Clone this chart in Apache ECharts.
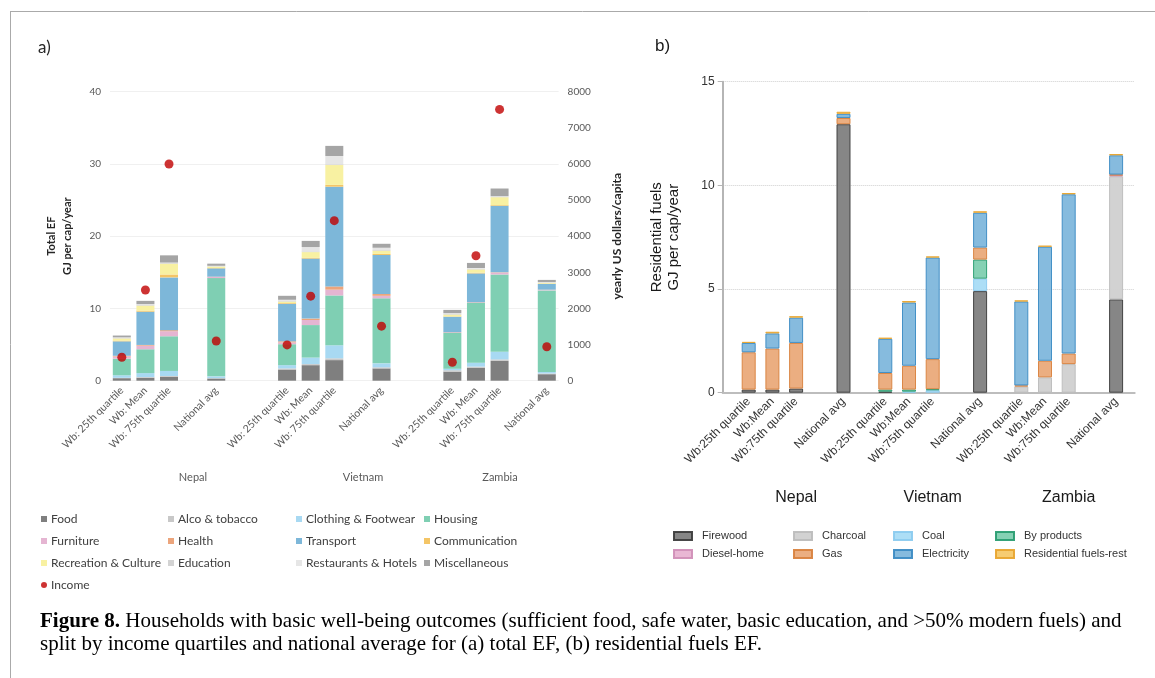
<!DOCTYPE html>
<html><head><meta charset="utf-8">
<script src="https://cdn.jsdelivr.net/npm/echarts@6/dist/echarts.min.js"></script>
<style>html,body{margin:0;padding:0;background:#fff}#c{width:1155px;height:678px}</style>
</head><body><div id="c"></div>
<script>
// ---------- Panel a data (order: Nepal 25th, Mean, 75th, National | Vietnam ... | Zambia ...)
const catA = ["Wb: 25th quartile","Wb: Mean","Wb: 75th quartile","","National avg","","",
  "Wb: 25th quartile","Wb: Mean","Wb: 75th quartile","","National avg","","",
  "Wb: 25th quartile","Wb: Mean","Wb: 75th quartile","","National avg"];
const groupsA = ["Nepal","Vietnam","Zambia"];
const food        = [0.35,0.4,0.55,0.3, 1.55,2.15,2.85,1.7, 1.25,1.8,2.75,0.9];
const alco        = [0.05,0.1,0.1,0.05, 0.15,0.15,0.25,0.15, 0.2,0.15,0.2,0.1];
const clothing    = [0.35,0.55,0.7,0.25, 0.45,0.9,1.8,0.55, 0.2,0.55,1.05,0.2];
const housing     = [2.3,3.3,4.8,13.6, 2.9,4.5,6.9,9.0, 4.95,8.25,10.7,11.3];
const furniture   = [0.3,0.5,0.7,0.15, 0.25,0.7,0.8,0.35, 0.05,0.05,0.25,0.05];
const health      = [0.1,0.1,0.15,0.05, 0.15,0.2,0.45,0.25, 0.05,0.05,0.05,0.05];
const transport   = [2.0,4.6,7.3,1.15, 5.2,8.3,13.8,5.4, 2.15,4.0,9.2,0.8];
const communication=[0.1,0.15,0.4,0.05, 0.1,0.1,0.25,0.15, 0.05,0.1,0.1,0.05];
const recreation  = [0.3,0.7,1.5,0.2, 0.2,0.8,2.75,0.45, 0.25,0.45,1.1,0.1];
const education   = [0.1,0.1,0.1,0.05, 0.15,0.1,0.1,0.1, 0.1,0.1,0.1,0.05];
const restaurants = [0.05,0.1,0.05,0.05, 0.1,0.6,1.15,0.3, 0.1,0.1,0.05,0.05];
const misc        = [0.25,0.45,1.0,0.3, 0.55,0.85,1.4,0.55, 0.45,0.7,1.05,0.3];
const income      = [650,2510,6000,1100, 990,2340,4430,1510, 510,3460,7510,940];

// ---------- Panel b data
const catB = ["Wb:25th quartile","Wb:Mean","Wb:75th quartile","","National avg"];
const groupsB = ["Nepal","Vietnam","Zambia"];
const firewood    = [0.15,0.15,0.2,12.95, 0.05,0,0,4.9, 0,0,0,4.5];
const charcoal    = [0,0,0,0, 0,0,0,0, 0.3,0.74,1.38,5.94];
const coal        = [0,0,0,0, 0,0.05,0.12,0.6, 0,0,0,0];
const byproducts  = [0,0,0,0, 0.1,0.1,0.05,0.92, 0,0,0,0];
const diesel      = [0,0,0,0, 0,0,0,0, 0,0,0,0.05];
const gas         = [1.8,1.98,2.2,0.3, 0.8,1.15,1.45,0.58, 0.05,0.8,0.51,0.03];
const electricity = [0.45,0.73,1.22,0.2, 1.65,3.05,4.9,1.68, 4.05,5.5,7.68,0.93];
const fuelsRest   = [0.05,0.08,0.07,0.1, 0.05,0.07,0.05,0.07, 0.05,0.05,0.06,0.06];

// ---------- helpers
function expand(vals, cats){ let j=0; return cats.map(c => { if(c==='') return '-'; const v = vals[j++]; return v===0?'-':v; }); }

const seriesAInfo = [
  ['Food',food,'#7f7f7f'],['Alco & tobacco',alco,'#c8c8c8'],['Clothing & Footwear',clothing,'#a8d9f2'],
  ['Housing',housing,'#7fcfb3'],['Furniture',furniture,'#e5b5d2'],['Health',health,'#eca57c'],
  ['Transport',transport,'#7db7d9'],['Communication',communication,'#f4c566'],['Recreation & Culture',recreation,'#f8f1a2'],
  ['Education',education,'#d3d3d3'],['Restaurants & Hotels',restaurants,'#e6e6e6'],['Miscellaneous',misc,'#a5a5a5']
];
const seriesBInfo = [
  ['Firewood',firewood,'#7f7f7f','#3d3d3d'],['Charcoal',charcoal,'#d0d0d0','#bdbdbd'],
  ['Coal',coal,'#a9dcf5','#8ccbef'],['By products',byproducts,'#7fcfb0','#2a9d72'],
  ['Diesel-home',diesel,'#e8b3d2','#d18fb8'],['Gas',gas,'#eaaa7a','#d9833f'],
  ['Electricity',electricity,'#7fb7dc','#3d8cc4'],['Residential fuels-rest',fuelsRest,'#f5c96a','#e8a530']
];

const fa = 'Lato, "Open Sans", sans-serif';
const fb = '"Liberation Sans", Arial, sans-serif';
const fs = '"Liberation Serif", "DejaVu Serif", serif';

const series = [];
seriesAInfo.forEach(([n,v,c]) => series.push({
  name:n, type:'bar', stack:'a', xAxisIndex:0, yAxisIndex:0, barWidth:18,
  itemStyle:{color:c}, data: expand(v, catA), animation:false
}));
series.push({name:'Income', type:'scatter', xAxisIndex:0, yAxisIndex:1, symbolSize:9,
  itemStyle:{color:'#c00000'}, data: expand(income, catA), z:5, animation:false});

for(let k=0;k<3;k++){
  seriesBInfo.forEach(([n,v,c,bc]) => series.push({
    name:n, type:'bar', stack:'b'+k, xAxisIndex:2+k, yAxisIndex:3+k, barWidth:14,
    itemStyle:{color:c, borderColor:bc, borderWidth:1, opacity:0.95},
    data: expand(v.slice(4*k,4*k+4), catB), animation:false
  }));
}

const grids = [
  {left:110, top:91.7, width:448.6, height:289},
  {left:722.7, top:81.7, width:412, height:311},
  {left:736.85, top:81.7, width:118.5, height:311},
  {left:873.45, top:81.7, width:118.5, height:311},
  {left:1009.45, top:81.7, width:118.5, height:311}
];

const xAxis = [
  {type:'category', gridIndex:0, data:catA, axisLine:{show:false}, axisTick:{show:false},
   axisLabel:{interval:0, rotate:45, margin:8, fontSize:10.5, color:'#595959', fontFamily:fa}},
  {type:'category', gridIndex:1, data:[''], axisLine:{show:true, lineStyle:{color:'#bdbdbd', width:2}},
   axisTick:{show:false}, axisLabel:{show:false}},
];
for(let k=0;k<3;k++) xAxis.push({type:'category', gridIndex:2+k, data:catB,
  axisLine:{show:false}, axisTick:{show:false},
  axisLabel:{interval:0, rotate:45, margin:7, fontSize:12, color:'#333', fontFamily:fb},
  name:groupsB[k], nameLocation:'middle', nameGap:97,
  nameTextStyle:{fontSize:16, color:'#1a1a1a', fontFamily:fb}});

const yAxis = [
  {type:'value', gridIndex:0, min:0, max:40, interval:10, position:'left',
   axisLine:{show:false}, axisTick:{show:false},
   splitLine:{lineStyle:{color:'#f0f0f0', width:1}},
   axisLabel:{fontSize:10, color:'#595959', fontFamily:fa, margin:9},
   name:'Total EF\nGJ per cap/year', nameLocation:'middle', nameGap:35, nameRotate:90,
   nameTextStyle:{fontSize:11, fontWeight:'bold', color:'#262626', fontFamily:fa, lineHeight:16}},
  {type:'value', gridIndex:0, min:0, max:8000, interval:1000, position:'right',
   axisLine:{show:false}, axisTick:{show:false}, splitLine:{show:false},
   axisLabel:{fontSize:10, color:'#595959', fontFamily:fa, margin:9, formatter:v=>String(v)},
   name:'yearly US dollars/capita', nameLocation:'middle', nameGap:53, nameRotate:90,
   nameTextStyle:{fontSize:12, fontWeight:'bold', color:'#262626', fontFamily:fa}},
  {type:'value', gridIndex:1, min:0, max:15, interval:5,
   axisLine:{show:true, lineStyle:{color:'#b5b5b5', width:2}},
   axisTick:{show:true, length:5, lineStyle:{color:'#b5b5b5', width:1}},
   splitLine:{lineStyle:{color:'#cfcfcf', type:'dotted', width:1}},
   axisLabel:{fontSize:12, color:'#333', fontFamily:fb, margin:8},
   name:'Residential fuels\nGJ per cap/year', nameLocation:'middle', nameGap:40, nameRotate:90,
   nameTextStyle:{fontSize:15, color:'#1a1a1a', fontFamily:fb, lineHeight:17}}
];
for(let k=0;k<3;k++) yAxis.push({type:'value', gridIndex:2+k, min:0, max:15, show:false, splitLine:{show:false}});

function legA(left, names){ return {orient:'vertical', left:left, top:513, padding:0, itemGap:10,
  itemWidth:6, itemHeight:6, icon:'rect', selectedMode:false, data:names.map(n=>n==='Income'?{name:n,icon:'circle'}:n),
  textStyle:{fontSize:12, color:'#404040', fontFamily:fa, lineHeight:12, padding:[0,0,0,-1]}}; }
function legB(left, names){ return {orient:'vertical', left:left, top:530, padding:0, itemGap:6,
  itemWidth:18, itemHeight:8, icon:'rect', selectedMode:false, data:names,
  textStyle:{fontSize:11, color:'#333', fontFamily:fb, lineHeight:12, padding:[0,0,0,5]}}; }

const legend = [
  legA(41, ['Food','Furniture','Recreation & Culture','Income']),
  legA(168, ['Alco & tobacco','Health','Education']),
  legA(296, ['Clothing & Footwear','Transport','Restaurants & Hotels']),
  legA(424, ['Housing','Communication','Miscellaneous']),
  legB(673, ['Firewood','Diesel-home']),
  legB(793, ['Charcoal','Gas']),
  legB(893, ['Coal','Electricity']),
  legB(995, ['By products','Residential fuels-rest'])
];

const groupX = [193, 363, 500];
const graphic = [
  {type:'line', shape:{x1:10, y1:11.5, x2:1155, y2:11.5}, style:{stroke:'#aaaaaa', lineWidth:1}},
  {type:'line', shape:{x1:10.5, y1:11, x2:10.5, y2:678}, style:{stroke:'#aaaaaa', lineWidth:1}},
  {type:'text', left:38, top:39, style:{text:'a)', fontSize:17, fontFamily:fa, fill:'#262626'}},
  {type:'text', left:655, top:38, style:{text:'b)', fontSize:17, fontFamily:fb, fill:'#1a1a1a'}},
  {type:'text', left:40, top:611, style:{text:'{b|Figure 8.} Households with basic well-being outcomes (sufficient food, safe water, basic education, and >50% modern fuels) and',
     fontSize:21, fontFamily:fs, fill:'#000', rich:{b:{fontWeight:'bold', fontSize:21, fontFamily:fs, fill:'#000'}}}},
  {type:'text', left:40, top:634, style:{text:'split by income quartiles and national average for (a) total EF, (b) residential fuels EF.',
     fontSize:21, fontFamily:fs, fill:'#000'}}
];
groupsA.forEach((g,i)=>graphic.push({type:'text', x:groupX[i], y:477, style:{text:g, fontSize:11, fontFamily:fa, fill:'#595959', align:'center', verticalAlign:'middle'}}));

const chart = echarts.init(document.getElementById('c'), null, {renderer:'canvas'});
chart.setOption({animation:false, backgroundColor:'#fff', grid:grids, xAxis:xAxis, yAxis:yAxis, legend:legend, series:series, graphic:graphic});
</script></body></html>
